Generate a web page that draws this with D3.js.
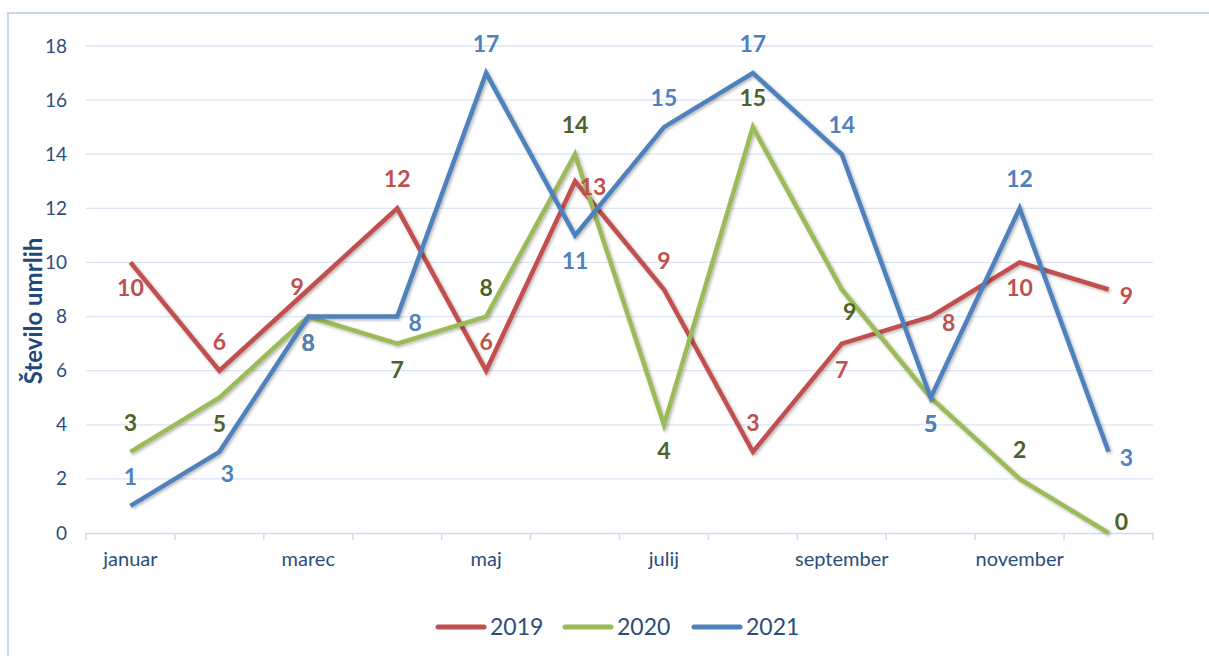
<!DOCTYPE html>
<html><head><meta charset="utf-8">
<script src="https://cdn.jsdelivr.net/npm/d3@7"></script>
<style>body{margin:0;background:#fff}svg{display:block}</style>
</head><body>
<svg id="c" width="1209" height="656"></svg>
<script>
const months = ["januar","februar","marec","april","maj","junij","julij","avgust","september","oktober","november","december"];
const shownMonths = ["januar","marec","maj","julij","september","november"];
const yTicks = [0,2,4,6,8,10,12,14,16,18];
const seriesNames = ["2019","2020","2021"];
const v2019 = [10,6,9,12,6,13,9,3,7,8,10,9];
const v2020 = [3,5,8,7,8,14,4,15,9,5,2,0];
const v2021 = [1,3,8,8,17,11,15,17,14,5,12,3];
// label placement per point: a=above, b=below, r=right, al=above-left, ar=above-right, br=below-right
const pos2019 = ["b","a","al","a","a","r","a","a","b","r","b","r"];
const pos2020 = ["a","b","b","b","a","a","b","a","br","b","a","ar"];
const pos2021 = ["a","br","b","r","a","b","a","a","a","b","a","r"];

const colors = ["#c0504d","#9bbb59","#4f81bd"];
const labelColors = ["#c0504d","#4f6228","#4f81bd"];
const font = "Lato, 'Open Sans', sans-serif";

const svg = d3.select("#c");
const defs = svg.append("defs");
const f = defs.append("filter").attr("id","sh").attr("x","-5%").attr("y","-5%").attr("width","110%").attr("height","110%");
f.append("feDropShadow").attr("dx",1.5).attr("dy",1.5).attr("stdDeviation",1.5).attr("flood-color","#000").attr("flood-opacity",0.3);

// outer border
svg.append("rect").attr("x",8).attr("y",13).attr("width",1220).attr("height",660)
  .attr("fill","none").attr("stroke","#c6d9f1").attr("stroke-width",2);

const m = {l:86, r:1153, t:46, b:533};
const x = d3.scaleBand().domain(months).range([m.l,m.r]).padding(0);
const y = d3.scaleLinear().domain([0,18]).range([m.b,m.t]);
const cx = d => x(d) + x.bandwidth()/2;

// gridlines
svg.append("g").selectAll("line").data(yTicks.filter(t=>t>0)).join("line")
  .attr("x1",m.l).attr("x2",m.r).attr("y1",d=>y(d)).attr("y2",d=>y(d))
  .attr("stroke","#dbe5f4").attr("stroke-width",1.3);

// y axis labels
const ya = svg.append("g").attr("transform",`translate(${m.l},0)`)
  .call(d3.axisLeft(y).tickValues(yTicks).tickSize(0).tickPadding(19));
ya.select(".domain").remove();
ya.selectAll("text").attr("font-family",font).attr("font-size",19).attr("fill","#2c4d7c");

// x axis
const xa = svg.append("g").attr("transform",`translate(0,${m.b})`)
  .call(d3.axisBottom(x).tickSize(0).tickPadding(19).tickFormat(d=>shownMonths.includes(d)?d:""));
xa.select(".domain").attr("stroke","#d0dcee").attr("stroke-width",1.5);
xa.selectAll("text").attr("font-family",font).attr("font-size",20).attr("fill","#2c4d7c");
// tick marks at category boundaries
const bounds = months.map(d=>x(d)).concat([m.r]);
svg.append("g").selectAll("line").data(bounds).join("line")
  .attr("x1",d=>d).attr("x2",d=>d).attr("y1",m.b).attr("y2",m.b+7)
  .attr("stroke","#d0dcee").attr("stroke-width",1.5);

// y title
svg.append("text").attr("transform",`translate(42,311) rotate(-90)`)
  .attr("text-anchor","middle").attr("font-family",font).attr("font-weight","bold")
  .attr("font-size",24).attr("fill","#1f497d").text("Število umrlih");

const data = [v2019,v2020,v2021];
const poss = [pos2019,pos2020,pos2021];
const line = d3.line().x((d,i)=>cx(months[i])).y(d=>y(d));

data.forEach((vals,k)=>{
  svg.append("path").datum(vals).attr("d",line).attr("fill","none")
    .attr("stroke",colors[k]).attr("stroke-width",4.5).attr("stroke-linejoin","miter")
    .attr("filter","url(#sh)");
});

const off = {a:[0,-29],b:[0,26],r:[18,6],al:[-11,-3],ar:[13,-11],br:[8,22]};
data.forEach((vals,k)=>{
  svg.append("g").selectAll("text").data(vals).join("text")
    .attr("x",(d,i)=>cx(months[i])+off[poss[k][i]][0])
    .attr("y",(d,i)=>y(d)+off[poss[k][i]][1]+8)
    .attr("text-anchor","middle").attr("font-family",font).attr("font-weight","bold")
    .attr("font-size",23).attr("fill",labelColors[k]).text(d=>d);
});

// legend
const lg = svg.append("g");
const lx = [436,563,692];
seriesNames.forEach((s,k)=>{
  lg.append("line").attr("x1",lx[k]+2).attr("x2",lx[k]+48).attr("y1",627).attr("y2",627)
    .attr("stroke",colors[k]).attr("stroke-width",5).attr("stroke-linecap","round");
  lg.append("text").attr("x",lx[k]+54).attr("y",635).attr("font-family",font)
    .attr("font-size",23).attr("fill","#2c4d7c").text(s);
});
</script>
</body></html>
